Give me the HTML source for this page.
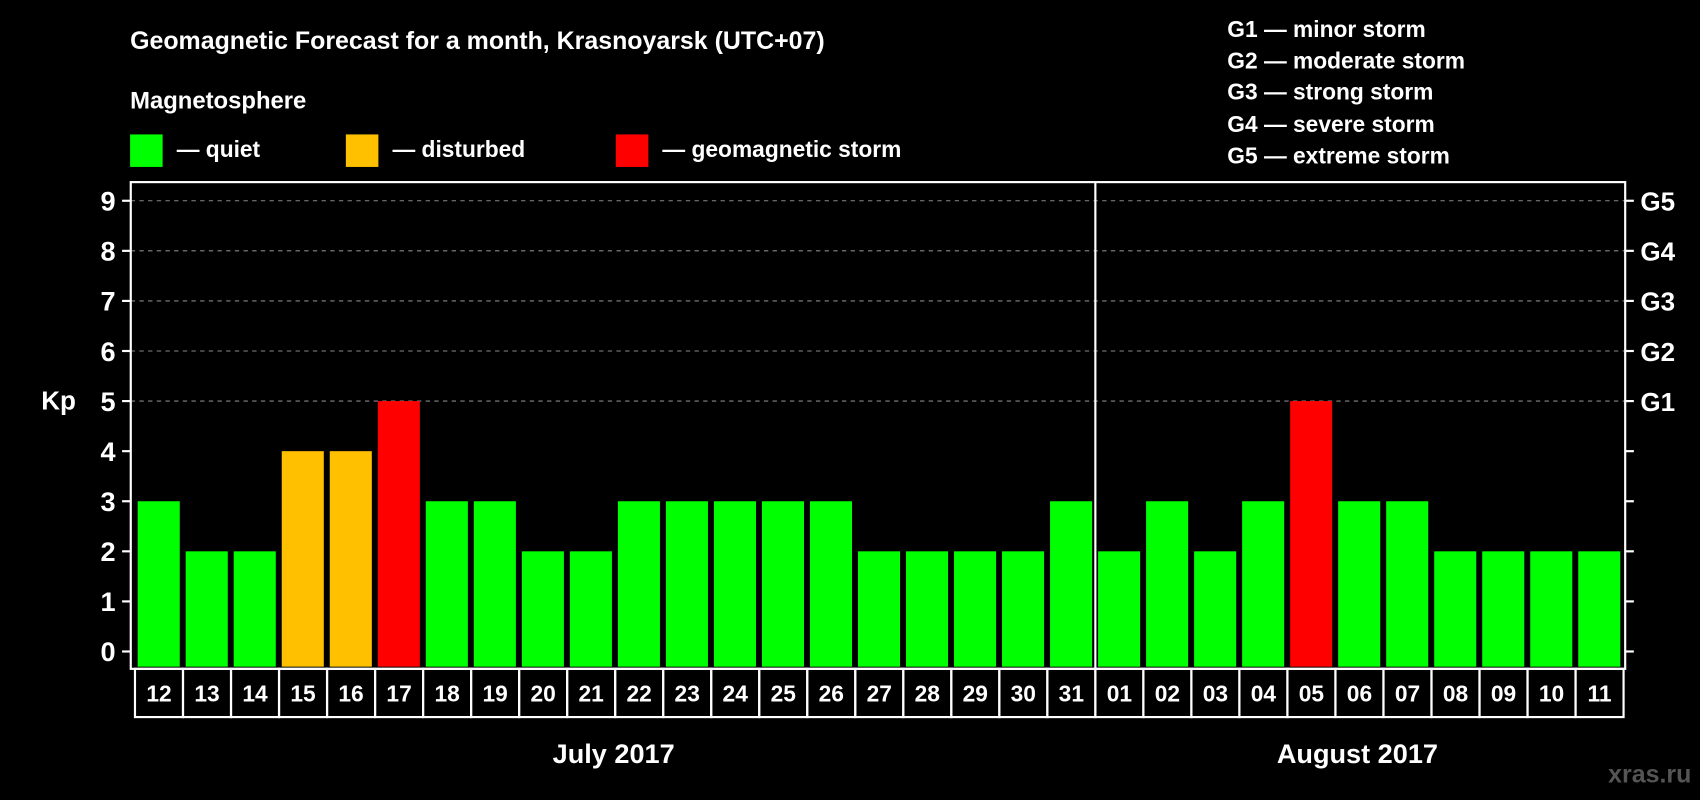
<!DOCTYPE html>
<html><head><meta charset="utf-8"><style>
html,body{margin:0;padding:0;background:#000;width:1700px;height:800px;overflow:hidden}
svg{display:block}
text{font-family:"Liberation Sans",Arial,sans-serif;font-weight:bold;fill:#fff}
</style></head><body>
<svg id="chart" width="1700" height="800" viewBox="0 0 1568 738" preserveAspectRatio="none" xmlns="http://www.w3.org/2000/svg">
<rect x="0" y="0" width="1568" height="738" fill="#000"/>
<text x="120" y="45" font-size="23">Geomagnetic Forecast for a month, Krasnoyarsk (UTC+07)</text>
<text x="120" y="100" font-size="22">Magnetosphere</text>
<g>
<rect x="120" y="124" width="30" height="30" fill="#00ff00"/>
<text x="163" y="145" font-size="21">— quiet</text>
<rect x="319" y="124" width="30" height="30" fill="#ffc000"/>
<text x="362" y="145" font-size="21">— disturbed</text>
<rect x="568" y="124" width="30" height="30" fill="#ff0000"/>
<text x="611" y="145" font-size="21">— geomagnetic storm</text>
</g>
<g font-size="21">
<text x="1132" y="34">G1 — minor storm</text>
<text x="1132" y="63">G2 — moderate storm</text>
<text x="1132" y="92">G3 — strong storm</text>
<text x="1132" y="122">G4 — severe storm</text>
<text x="1132" y="151">G5 — extreme storm</text>
</g>
<text x="38" y="378" font-size="24">Kp</text>
<g id="grid"></g>
<g id="bars"></g>
<g id="axes"></g>
<text x="566" y="704" font-size="25" text-anchor="middle">July 2017</text>
<text x="1252" y="704" font-size="25" text-anchor="middle">August 2017</text>
<text x="1560" y="722" font-size="23" text-anchor="end" style="fill:#555">xras.ru</text>
</svg>
<script>
const days = ["12","13","14","15","16","17","18","19","20","21","22","23","24","25","26","27","28","29","30","31","01","02","03","04","05","06","07","08","09","10","11"];
const kpValues = [3,2,2,4,4,5,3,3,2,2,3,3,3,3,3,2,2,2,2,3,2,3,2,3,5,3,3,2,2,2,2];
const yTicks = [0,1,2,3,4,5,6,7,8,9];
const stormLabels = ["G1","G2","G3","G4","G5"];
const stormLevels = [5,6,7,8,9];
const monthSplitIndex = 20;

const NS="http://www.w3.org/2000/svg";
const L=120.6,R=1499,T=168,B=617,boxL=124.5,boxR=1497.5,boxB=661.5;
const slot=(boxR-boxL)/days.length;
const y=v=>601-v*46.2;
const xs=i=>boxL+i*slot;
function mk(tag,attrs,parent){const e=document.createElementNS(NS,tag);for(const k in attrs)e.setAttribute(k,attrs[k]);parent.appendChild(e);return e;}
const grid=document.getElementById('grid'),bars=document.getElementById('bars'),axes=document.getElementById('axes');
function color(v){return v>=5?"#ff0000":v>=4?"#ffc000":"#00ff00";}

yTicks.forEach(v=>{
  if(v>=5){const g=mk('line',{x1:L,x2:R,y1:y(v),y2:y(v),stroke:"#888","stroke-width":1,"stroke-dasharray":"4,4"},grid);
    
    }
  const t=mk('line',{x1:L-8,x2:L,y1:y(v),y2:y(v),stroke:"#fff","stroke-width":2},axes);
  
  
  const t2=mk('line',{x1:R,x2:R+8,y1:y(v),y2:y(v),stroke:"#fff","stroke-width":2},axes);
  
  
  const lb=mk('text',{x:L-14,y:y(v)+9,"font-size":25,"text-anchor":"end"},axes);
  lb.textContent=v;
  
  
});
stormLabels.forEach((s,i)=>{
  const lb=mk('text',{x:R+14,y:y(stormLevels[i])+9,"font-size":24},axes);
  lb.textContent=s;
  
  
});
kpValues.forEach((v,i)=>{
  const b=mk('rect',{x:xs(i)+2.5,y:y(v),width:slot-5.5,height:615-y(v),fill:color(v)},bars);
  
  
  const box=mk('rect',{x:xs(i),y:B,width:slot,height:boxB-B,fill:"none",stroke:"#fff","stroke-width":2},axes);
  
  
  const t=mk('text',{x:xs(i)+slot/2,y:647,"font-size":21,"text-anchor":"middle"},axes);
  t.textContent=days[i];
  
  
});
const frame=mk('rect',{x:L,y:T,width:R-L,height:B-T,fill:"none",stroke:"#fff","stroke-width":2},axes);


const sep=mk('line',{x1:xs(monthSplitIndex),x2:xs(monthSplitIndex),y1:T,y2:B,stroke:"#fff","stroke-width":2},axes);


</script>
</body></html>
